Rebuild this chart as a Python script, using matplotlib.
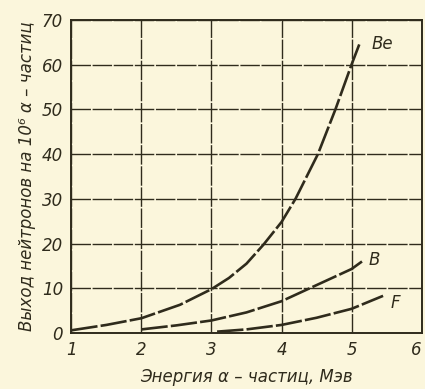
import matplotlib
matplotlib.use("Agg")
import matplotlib.pyplot as plt

# yield of neutrons per 10^6 alpha particles vs alpha energy
be_x = [1.0, 1.5, 2.0, 2.55, 3.0, 3.25, 3.5, 3.74, 4.0, 4.2, 4.52, 4.77, 5.0, 5.11]
be_y = [0.6, 1.8, 3.3, 6.3, 9.8, 12.3, 15.5, 19.7, 24.8, 30.0, 40.0, 50.0, 60.0, 64.5]

b_x = [2.0, 2.5, 3.0, 3.5, 3.74, 4.0, 4.5, 5.0, 5.15]
b_y = [0.8, 1.7, 2.8, 4.6, 5.8, 7.1, 10.7, 14.3, 16.0]

f_x = [3.08, 3.5, 4.0, 4.5, 5.0, 5.45]
f_y = [0.3, 0.8, 1.8, 3.4, 5.4, 8.3]

labels = ["Be", "B", "F"]
label_pos = [(5.28, 63.5), (5.24, 15.3), (5.55, 5.5)]

xticks = [1, 2, 3, 4, 5, 6]
yticks = [0, 10, 20, 30, 40, 50, 60, 70]

paper = "#fbf6dc"
ink = "#2f2b1c"

plt.rcParams["font.family"] = ["DejaVu Sans"]

fig = plt.figure(figsize=(4.25, 3.89), dpi=100, facecolor=paper)
ax = fig.add_axes([0.168, 0.144, 0.824, 0.805])
ax.set_facecolor(paper)

for xs, ys in [(be_x, be_y), (b_x, b_y), (f_x, f_y)]:
    ax.plot(xs, ys, color=ink, lw=1.9, ls=(0, (10, 1.2)), solid_joinstyle="round")

for name, (lx, ly) in zip(labels, label_pos):
    ax.text(lx, ly, name, color=ink, fontsize=12, style="italic")

ax.set_xlim(1, 6)
ax.set_ylim(0, 70)
ax.set_xticks(xticks)
ax.set_yticks(yticks)
ax.grid(True, color=ink, lw=1.0, ls=(0, (14, 1.2)))
ax.tick_params(length=0, pad=6, labelsize=12, colors=ink)
for lab in ax.get_xticklabels() + ax.get_yticklabels():
    lab.set_style("italic")
ax.get_xticklabels()[-1].set_horizontalalignment("right")
for sp in ax.spines.values():
    sp.set_color(ink)
    sp.set_linewidth(1.4)

ax.set_xlabel("Энергия α – частиц, Мэв", fontsize=12, style="italic", color=ink, labelpad=6)
ax.set_ylabel("Выход нейтронов на 10⁶ α – частиц", fontsize=12, style="italic", color=ink, labelpad=4)

fig.savefig("out.png", dpi=100, facecolor=paper)
